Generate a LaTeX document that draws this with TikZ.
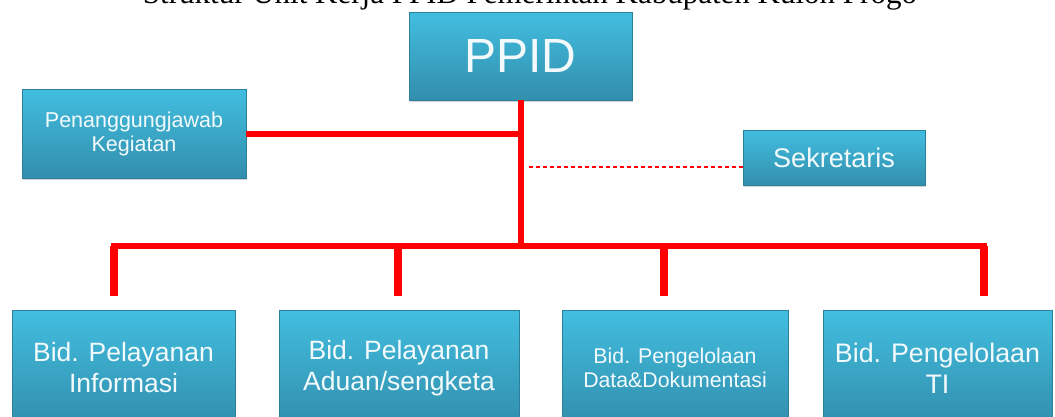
\documentclass[tikz,border=0pt]{standalone}
\usepackage{fontspec}
\newfontfamily\boxfont{Liberation Sans}
\newfontfamily\titlefont{Liberation Serif}
\usetikzlibrary{shadows}
\definecolor{boxtop}{RGB}{66,190,224}
\definecolor{boxbot}{RGB}{50,142,172}
\definecolor{boxedge}{RGB}{44,128,156}
\definecolor{boxtext}{RGB}{242,250,252}

\begin{document}
\begin{tikzpicture}[x=1pt,y=-1pt,
  box/.style = {shape=rectangle, draw=boxedge, line width=0.6pt,
    top color=boxtop, bottom color=boxbot, text=boxtext, align=center,
    inner sep=0pt, drop shadow={opacity=0.35, shadow xshift=1pt, shadow yshift=-2pt}},
  line/.style = {draw=red, line width=6pt},
  drop/.style = {draw=red, line width=7.5pt}]
  \useasboundingbox (0,0) rectangle (1055,416);
  \clip (0,0) rectangle (1055,416);
  \node[anchor=base, font={\titlefont\fontsize{31}{36}\selectfont}] (title) at (530,3)
    {Struktur Unit Kerja PPID Pemerintah Kabupaten Kulon Progo};
  \node[box, minimum width=223pt, minimum height=88pt,
    font={\boxfont\fontsize{48}{56}\selectfont}] (ppid) at (520.5,56) {PPID};
  \node[box, minimum width=224pt, minimum height=89pt,
    font={\boxfont\fontsize{21.5}{24}\selectfont}] (pj) at (134,133.5) {Penanggungjawab\\Kegiatan};
  \node[box, minimum width=182pt, minimum height=55pt,
    font={\boxfont\fontsize{27}{30}\selectfont}] (sek) at (834,157.5) {Sekretaris};
  \node[box, minimum width=223pt, minimum height=116pt,
    font={\boxfont\fontsize{26.5}{31}\selectfont}] (b1) at (123.5,368) {Bid. Pelayanan\\Informasi};
  \node[box, minimum width=240pt, minimum height=116pt,
    font={\boxfont\fontsize{26.5}{31}\selectfont}] (b2) at (399,368) {Bid. Pelayanan\\Aduan/sengketa};
  \node[box, minimum width=226pt, minimum height=116pt,
    font={\boxfont\fontsize{21.3}{24}\selectfont}] (b3) at (675,368) {Bid. Pengelolaan\\Data\&Dokumentasi};
  \node[box, minimum width=229pt, minimum height=116pt,
    font={\boxfont\fontsize{26.8}{31}\selectfont}] (b4) at (937.5,368) {Bid. Pengelolaan\\TI};
  \coordinate (hub) at (520.5,246);
  \coordinate (d1) at (114,296);
  \coordinate (d2) at (398,296);
  \coordinate (d3) at (664,296);
  \coordinate (d4) at (984,296);
  \draw[line] (ppid.south) -- (hub);
  \draw[line] (pj.east) -- (pj.east -| ppid.south);
  \draw[red, line width=1.2pt, dash pattern=on 4pt off 3pt, shorten >=6pt]
    ([yshift=-9.5pt]sek.west) -- ([yshift=-9.5pt]sek.west -| ppid.south);
  \draw[line, line join=miter] (d1) |- (hub) -| (d4);
  \draw[drop] (d1) -- (d1 |- hub);
  \draw[drop] (d2) -- (d2 |- hub);
  \draw[drop] (d3) -- (d3 |- hub);
  \draw[drop] (d4) -- (d4 |- hub);
\end{tikzpicture}
\end{document}
